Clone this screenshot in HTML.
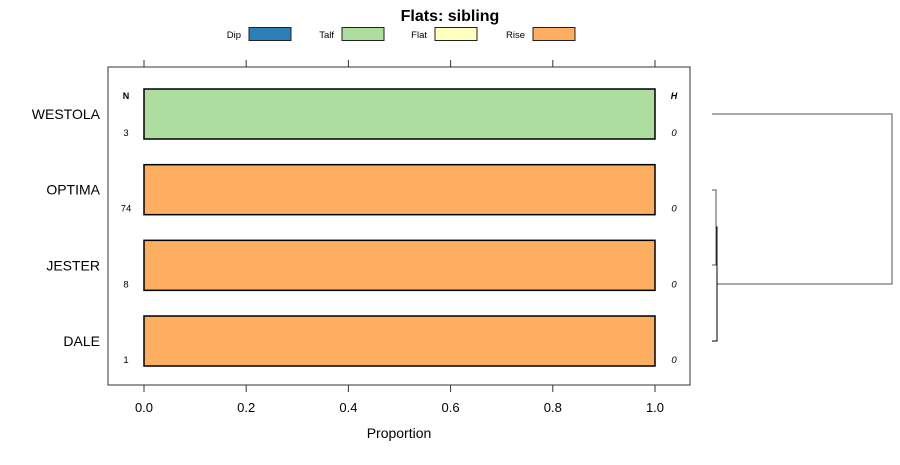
<!DOCTYPE html>
<html><head><meta charset="utf-8"><style>
body{margin:0;background:#fff}
svg{font-family:"Liberation Sans",sans-serif}
</style></head><body>
<svg id="c" width="900" height="460" viewBox="0 0 900 460">
<text x="450" y="21" text-anchor="middle" font-size="16" font-weight="bold">Flats: sibling</text>
<g id="legend"></g>
<rect x="108" y="67" width="582" height="318" fill="none" stroke="#333"/>
<g id="axes"></g>
<g id="bars"></g>
<text x="399" y="438" text-anchor="middle" font-size="14">Proportion</text>
<text x="126" y="99" text-anchor="middle" font-size="9" font-weight="bold">N</text>
<text x="674" y="99" text-anchor="middle" font-size="9" font-weight="bold" font-style="italic">H</text>
<g fill="none" stroke="#000" stroke-width="1">
<path d="M712 114H892V284H717" stroke="#555"/>
<path d="M712 190H716V265H712" stroke="#555"/>
<path d="M716 227H717V341H712"/>
</g>
</svg>
<script>
const categories=["WESTOLA","OPTIMA","JESTER","DALE"];
const counts=[3,74,8,1];
const hValues=[0,0,0,0];
const dip=[0,0,0,0];
const talf=[1,0,0,0];
const flat=[0,0,0,0];
const rise=[0,1,1,1];
const legendLabels=["Dip","Talf","Flat","Rise"];
const colors=["#2c7fb8","#addd9f","#ffffbf","#fdae61"];
const ticks=[0,0.2,0.4,0.6,0.8,1.0];
const NS="http://www.w3.org/2000/svg";
const x=v=>144+v*511;
const yC=i=>114+i*75.67;
const legendX=[249,342,435,533];
function mk(t,a,p){const e=document.createElementNS(NS,t);for(const k in a)e.setAttribute(k,a[k]);p.appendChild(e);return e;}
const lg=document.getElementById('legend');
legendLabels.forEach((l,i)=>{const bx=legendX[i];
 const t=mk('text',{x:bx-8,y:38,'text-anchor':'end','font-size':9.5},lg);t.textContent=l;
 
 
 const r=mk('rect',{x:bx,y:27.5,width:42,height:13,fill:colors[i],stroke:'#222'},lg);
 
 });
const ax=document.getElementById('axes');
ticks.forEach(v=>{
 const a=mk('line',{x1:x(v),x2:x(v),y1:385,y2:392,stroke:'#333'},ax);
 
 
 const b=mk('line',{x1:x(v),x2:x(v),y1:60,y2:67,stroke:'#333'},ax);
 
 
 const t=mk('text',{x:x(v),y:412,'text-anchor':'middle','font-size':13},ax);t.textContent=v.toFixed(1);
 
 });
const bg=document.getElementById('bars');
const series=[dip,talf,flat,rise];
categories.forEach((c,i)=>{const yc=yC(i);
 const t=mk('text',{x:100,y:yc+5,'text-anchor':'end','font-size':14},bg);t.textContent=c;
 
 
 let acc=0;
 series.forEach((s,k)=>{if(s[i]>0){
  const r=mk('rect',{x:x(acc),y:yc-25,width:x(acc+s[i])-x(acc),height:50,fill:colors[k],stroke:'#000','stroke-width':1.5},bg);
  
  
  acc+=s[i];}});
 const n=mk('text',{x:126,y:yc+22,'text-anchor':'middle','font-size':9.5},bg);n.textContent=counts[i];
 
 
 const h=mk('text',{x:674,y:yc+22,'text-anchor':'middle','font-size':9.5,'font-style':'italic'},bg);h.textContent=hValues[i];
 
 
});
</script>
</body></html>
